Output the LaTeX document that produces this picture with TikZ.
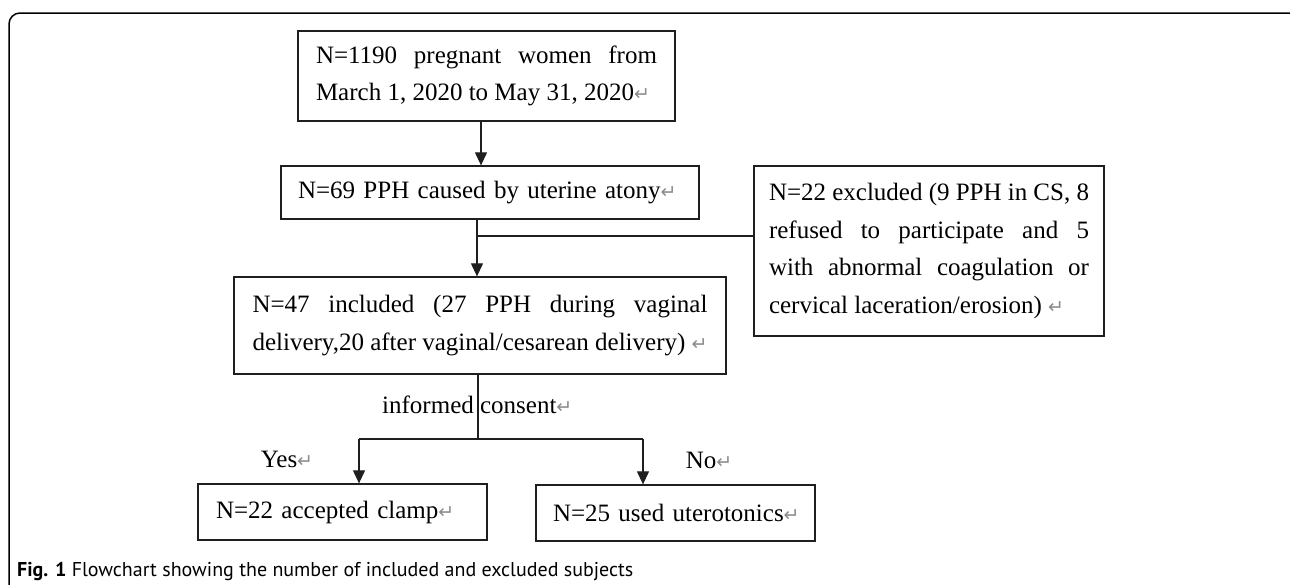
\documentclass[tikz,border=0pt]{standalone}
\usepackage{fontspec}
\setmainfont{Liberation Serif}
\newfontfamily\capfont{PT Sans}
\newfontfamily\dejavu{DejaVu Sans}
\usetikzlibrary{arrows.meta}
\definecolor{retgray}{gray}{0.55}
\definecolor{linec}{gray}{0.12}
\newcommand\retmark{{\dejavu\fontsize{19}{19}\selectfont\textcolor{retgray}{↵}}}
\begin{document}
\begin{tikzpicture}[x=1pt,y=-1pt,
  box/.style={draw=linec, line width=1.3pt, rectangle, inner ysep=0pt, font=\fontsize{25}{37.5}\selectfont, text=black},
  arr/.style={draw=linec, line width=1.1pt, -{Triangle[length=13pt,width=12pt]}},
  ln/.style={draw=linec, line width=1.1pt},
  lab/.style={font=\fontsize{25}{30}\selectfont, inner sep=0pt}]
\useasboundingbox (0,0) rectangle (1290,584);
\fill[white] (0,0) rectangle (1290,584);
\begin{scope}
\clip (0,0) rectangle (1290,584);
\draw[line width=1.5pt, rounded corners=11pt] (9,13) rectangle (1300,620);
\end{scope}

\node[box, minimum width=377pt, minimum height=90pt, text width=341pt, inner xsep=18pt, align=justify] (b1) at (486.5,76) {N=1190 pregnant women from\linebreak March 1, 2020 to May 31, 2020\retmark};
\node[box, minimum width=418pt, minimum height=53pt, text width=384pt, inner xsep=17pt, align=left] (b2) at (490,192.5) {\mbox{N=69 PPH caused by uterine atony\retmark}};
\node[box, minimum width=492pt, minimum height=97pt, text width=455pt, inner xsep=18.5pt, align=justify] (b3) at (480,325.5) {N=47 included (27 PPH during vaginal\linebreak delivery,20 after vaginal/cesarean delivery)~\retmark};
\node[box, minimum width=350pt, minimum height=170pt, text width=320pt, inner xsep=15pt, align=justify] (b4) at (929,251) {N=22 excluded (9 PPH in CS, 8\linebreak refused to participate and 5\linebreak with abnormal coagulation or\linebreak cervical laceration/erosion)~\retmark};
\node[box, minimum width=289pt, minimum height=56pt, text width=253pt, inner xsep=18pt, align=left] (b5) at (342.5,512) {\mbox{N=22 accepted clamp\retmark}};
\node[box, minimum width=279pt, minimum height=56pt, text width=245pt, inner xsep=17pt, align=left] (b6) at (675.5,513) {\mbox{N=25 used uterotonics\retmark}};

\coordinate (c1) at (481,0);
\draw[arr] (b1.south -| c1) -- (b2.north -| c1);
\coordinate (c2) at (477,236);
\draw[arr] (b2.south -| c2) -- (b3.north -| c2);
\draw[ln] (c2) -- (c2 -| b4.west);
\coordinate (j) at (478,439);
\coordinate (jl) at (359,439);
\coordinate (jr) at (643,439);
\draw[ln] (b3.south -| j) -- (j);
\draw[ln] (jl) -- (jr);
\draw[arr] (jl) -- (jl |- b5.north);
\draw[arr] (jr) -- (jr |- b6.north);

\node[lab, anchor=west] (ic) at (382,405) {informed consent\retmark};
\node[lab] (yes) at (287,459) {Yes\retmark};
\node[lab] (no) at (709,460) {No\retmark};

\node[anchor=base west, inner sep=0pt, font=\capfont\fontsize{20}{24}\selectfont] (cap) at (17,576) {\textbf{Fig. 1} Flowchart showing the number of included and excluded subjects};
\end{tikzpicture}
\end{document}
